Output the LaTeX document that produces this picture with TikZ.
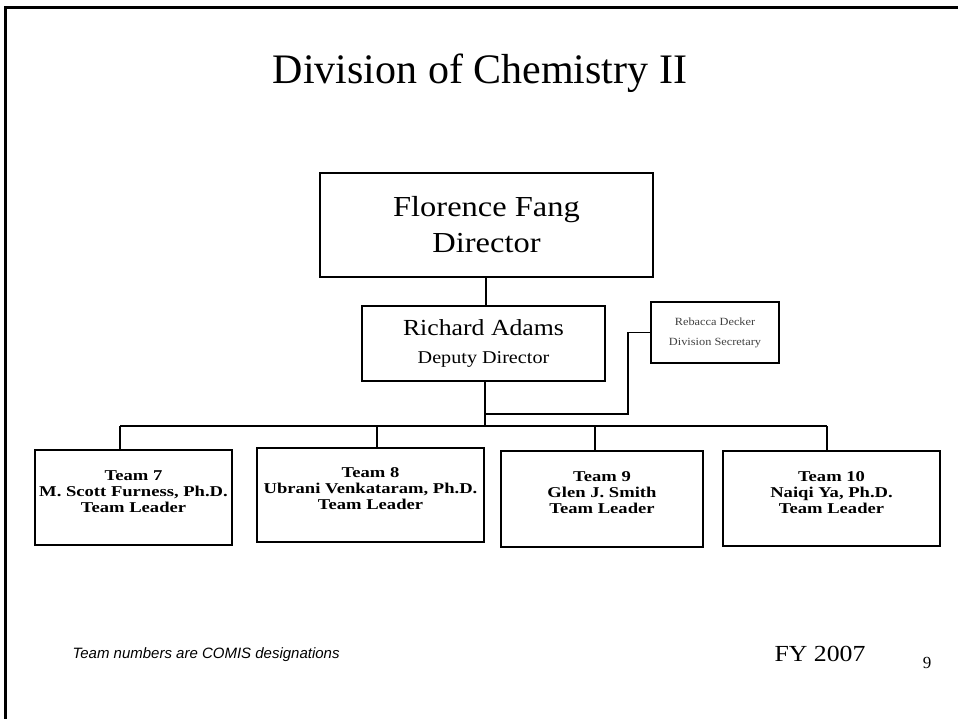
\documentclass[tikz,border=0pt]{standalone}
\usepackage{fontspec}
\setmainfont{Liberation Serif}
\newfontfamily\widefont[FakeStretch=1.12]{Liberation Serif}
\newfontfamily\teamfont[FakeStretch=1.24]{Liberation Serif}
\newfontfamily\notefont{Liberation Sans}
\newcommand{\lowpad}{\rule[-12pt]{0pt}{12pt}}
\begin{document}
\begin{tikzpicture}[x=1pt,y=-1pt,
  box/.style={draw,line width=1.6pt,inner sep=0pt,align=center},
  link/.style={line width=1.6pt},
  teambox/.style={box,font=\teamfont\bfseries\fontsize{15}{16}\selectfont}]
\useasboundingbox (0,0) rectangle (958,719);
% slide frame (top and left edges)
\draw[line width=2.4pt] (958,7.5) -- (5.5,7.5) -- (5.5,719);

\node (title) at (480,73) {\fontsize{42}{46}\selectfont Division of Chemistry II};

\node[box,minimum width=333pt,minimum height=104pt,
      font=\widefont\fontsize{29}{36}\selectfont] (dir) at (486.5,225)
  {Florence Fang\\Director};
\node[box,minimum width=243pt,minimum height=75pt,
      font=\widefont\fontsize{18}{28}\selectfont] (dep) at (483.5,343.5)
  {{\fontsize{23}{28}\selectfont Richard Adams}\\Deputy Director};
\node[box,minimum width=128pt,minimum height=61pt,text=black!75,
      font=\widefont\fontsize{11}{20}\selectfont] (sec) at (715,332.5)
  {Rebacca Decker\\Division Secretary};

\node[teambox,minimum width=197pt,minimum height=95pt] (t7) at (133.5,497.5)
  {Team 7\\M. Scott Furness, Ph.D.\\Team Leader\lowpad};
\node[teambox,minimum width=227pt,minimum height=94pt] (t8) at (370.5,495)
  {Team 8\\Ubrani Venkataram, Ph.D.\\Team Leader\lowpad};
\node[teambox,minimum width=202pt,minimum height=96pt] (t9) at (602,499)
  {Team 9\\Glen J. Smith\\Team Leader\lowpad};
\node[teambox,minimum width=217pt,minimum height=95pt] (t10) at (831.5,498.5)
  {Team 10\\Naiqi Ya, Ph.D.\\Team Leader\lowpad};

% bus line and branch points
\coordinate (bus) at (485,426);
\coordinate (b7) at (120,426);
\coordinate (b8) at (377,426);
\coordinate (b9) at (595,426);
\coordinate (b10) at (827,426);
\coordinate (sj) at (485,414);
\coordinate (sk) at (628,414);

\draw[link] (dir.south -| 486,0) -- (486,306);
\draw[link] (dep.south -| bus) -- (bus);
\draw[link] (b7) -- (b10);
\draw[link] (b7) -- (b7 |- t7.north);
\draw[link] (b8) -- (b8 |- t8.north);
\draw[link] (b9) -- (b9 |- t9.north);
\draw[link] (b10) -- (b10 |- t10.north);
\draw[link] (sj) -- (sk) -- (sk |- sec.west) -- (sec.west);

\node[anchor=west,font=\notefont\itshape\fontsize{15}{18}\selectfont] (note) at (69,655)
  {Team numbers are COMIS designations};
\node[anchor=west,font=\widefont\fontsize{23}{26}\selectfont] (fy) at (771,654) {FY 2007};
\node[font=\fontsize{17}{20}\selectfont] (pg) at (927,663) {9};
\end{tikzpicture}
\end{document}
